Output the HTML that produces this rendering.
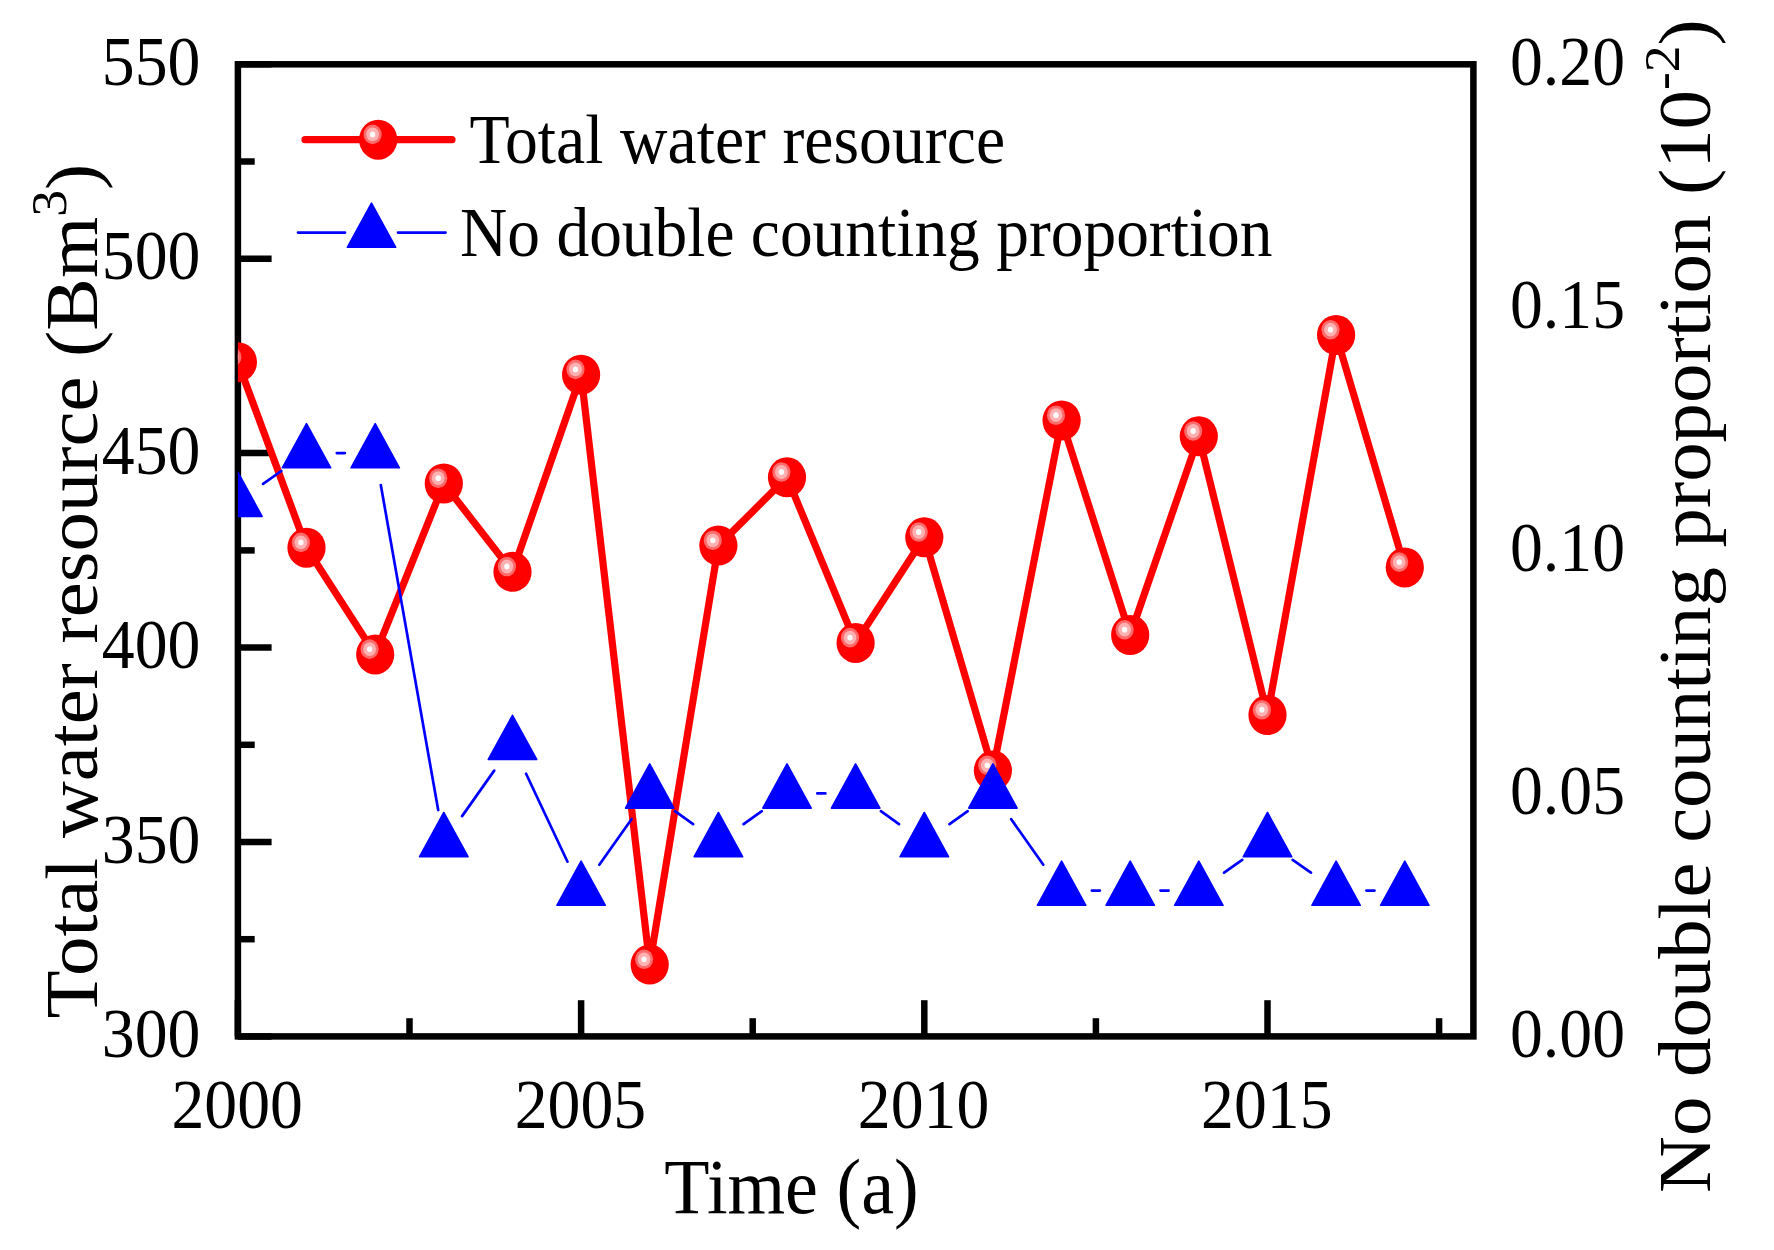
<!DOCTYPE html>
<html><head><meta charset="utf-8"><title>Total water resource</title>
<style>html,body{margin:0;padding:0;background:#fff}svg{display:block}text{font-family:"Liberation Serif","Times New Roman",serif;fill:#000}</style></head><body>
<svg width="1774" height="1250" viewBox="0 0 1774 1250">
<defs><clipPath id="cp"><rect x="237.9" y="64.3" width="1235.5" height="972.1"/></clipPath></defs>
<rect width="1774" height="1250" fill="#fff"/>
<g stroke="#000" stroke-width="6.5" fill="none">
<line x1="237.9" y1="1036.4" x2="237.9" y2="1000.2"/>
<line x1="409.5" y1="1036.4" x2="409.5" y2="1018.2"/>
<line x1="581.1" y1="1036.4" x2="581.1" y2="1000.2"/>
<line x1="752.7" y1="1036.4" x2="752.7" y2="1018.2"/>
<line x1="924.3" y1="1036.4" x2="924.3" y2="1000.2"/>
<line x1="1095.9" y1="1036.4" x2="1095.9" y2="1018.2"/>
<line x1="1267.5" y1="1036.4" x2="1267.5" y2="1000.2"/>
<line x1="1439.1" y1="1036.4" x2="1439.1" y2="1018.2"/>
<line x1="237.9" y1="1036.4" x2="271.6" y2="1036.4"/>
<line x1="237.9" y1="939.2" x2="254.7" y2="939.2"/>
<line x1="237.9" y1="842.0" x2="271.6" y2="842.0"/>
<line x1="237.9" y1="744.8" x2="254.7" y2="744.8"/>
<line x1="237.9" y1="647.6" x2="271.6" y2="647.6"/>
<line x1="237.9" y1="550.4" x2="254.7" y2="550.4"/>
<line x1="237.9" y1="453.1" x2="271.6" y2="453.1"/>
<line x1="237.9" y1="355.9" x2="254.7" y2="355.9"/>
<line x1="237.9" y1="258.7" x2="271.6" y2="258.7"/>
<line x1="237.9" y1="161.5" x2="254.7" y2="161.5"/>
<line x1="237.9" y1="64.3" x2="271.6" y2="64.3"/>
</g>
<rect x="237.9" y="64.3" width="1235.5" height="972.1" fill="none" stroke="#000" stroke-width="6.5"/>
<g clip-path="url(#cp)">
<polyline points="237.9,362.2 306.5,547.7 375.2,654.4 443.8,483.5 512.5,571.8 581.1,374.7 649.7,964.6 718.4,545.6 787.0,477.3 855.6,642.9 924.3,537.3 992.9,770.6 1061.6,420.5 1130.2,635.0 1198.8,436.3 1267.5,715.0 1336.1,335.0 1404.8,567.4" fill="none" stroke="#f00" stroke-width="7.2" stroke-linejoin="round"/>
<ellipse cx="237.9" cy="362.2" rx="19.1" ry="20" fill="#f00"/><ellipse cx="232.3" cy="356.9" rx="9.1" ry="9.8" fill="#ff6a6a"/><ellipse cx="232.3" cy="356.9" rx="6.4" ry="6.9" fill="#ffb0b0"/><ellipse cx="232.3" cy="356.9" rx="2.7" ry="2.9" fill="#fffafa"/>
<ellipse cx="306.5" cy="547.7" rx="19.1" ry="20" fill="#f00"/><ellipse cx="300.9" cy="542.4" rx="9.1" ry="9.8" fill="#ff6a6a"/><ellipse cx="300.9" cy="542.4" rx="6.4" ry="6.9" fill="#ffb0b0"/><ellipse cx="300.9" cy="542.4" rx="2.7" ry="2.9" fill="#fffafa"/>
<ellipse cx="375.2" cy="654.4" rx="19.1" ry="20" fill="#f00"/><ellipse cx="369.6" cy="649.1" rx="9.1" ry="9.8" fill="#ff6a6a"/><ellipse cx="369.6" cy="649.1" rx="6.4" ry="6.9" fill="#ffb0b0"/><ellipse cx="369.6" cy="649.1" rx="2.7" ry="2.9" fill="#fffafa"/>
<ellipse cx="443.8" cy="483.5" rx="19.1" ry="20" fill="#f00"/><ellipse cx="438.2" cy="478.2" rx="9.1" ry="9.8" fill="#ff6a6a"/><ellipse cx="438.2" cy="478.2" rx="6.4" ry="6.9" fill="#ffb0b0"/><ellipse cx="438.2" cy="478.2" rx="2.7" ry="2.9" fill="#fffafa"/>
<ellipse cx="512.5" cy="571.8" rx="19.1" ry="20" fill="#f00"/><ellipse cx="506.9" cy="566.5" rx="9.1" ry="9.8" fill="#ff6a6a"/><ellipse cx="506.9" cy="566.5" rx="6.4" ry="6.9" fill="#ffb0b0"/><ellipse cx="506.9" cy="566.5" rx="2.7" ry="2.9" fill="#fffafa"/>
<ellipse cx="581.1" cy="374.7" rx="19.1" ry="20" fill="#f00"/><ellipse cx="575.5" cy="369.4" rx="9.1" ry="9.8" fill="#ff6a6a"/><ellipse cx="575.5" cy="369.4" rx="6.4" ry="6.9" fill="#ffb0b0"/><ellipse cx="575.5" cy="369.4" rx="2.7" ry="2.9" fill="#fffafa"/>
<ellipse cx="649.7" cy="964.6" rx="19.1" ry="20" fill="#f00"/><ellipse cx="644.1" cy="959.3" rx="9.1" ry="9.8" fill="#ff6a6a"/><ellipse cx="644.1" cy="959.3" rx="6.4" ry="6.9" fill="#ffb0b0"/><ellipse cx="644.1" cy="959.3" rx="2.7" ry="2.9" fill="#fffafa"/>
<ellipse cx="718.4" cy="545.6" rx="19.1" ry="20" fill="#f00"/><ellipse cx="712.8" cy="540.3" rx="9.1" ry="9.8" fill="#ff6a6a"/><ellipse cx="712.8" cy="540.3" rx="6.4" ry="6.9" fill="#ffb0b0"/><ellipse cx="712.8" cy="540.3" rx="2.7" ry="2.9" fill="#fffafa"/>
<ellipse cx="787.0" cy="477.3" rx="19.1" ry="20" fill="#f00"/><ellipse cx="781.4" cy="472.0" rx="9.1" ry="9.8" fill="#ff6a6a"/><ellipse cx="781.4" cy="472.0" rx="6.4" ry="6.9" fill="#ffb0b0"/><ellipse cx="781.4" cy="472.0" rx="2.7" ry="2.9" fill="#fffafa"/>
<ellipse cx="855.6" cy="642.9" rx="19.1" ry="20" fill="#f00"/><ellipse cx="850.0" cy="637.6" rx="9.1" ry="9.8" fill="#ff6a6a"/><ellipse cx="850.0" cy="637.6" rx="6.4" ry="6.9" fill="#ffb0b0"/><ellipse cx="850.0" cy="637.6" rx="2.7" ry="2.9" fill="#fffafa"/>
<ellipse cx="924.3" cy="537.3" rx="19.1" ry="20" fill="#f00"/><ellipse cx="918.7" cy="532.0" rx="9.1" ry="9.8" fill="#ff6a6a"/><ellipse cx="918.7" cy="532.0" rx="6.4" ry="6.9" fill="#ffb0b0"/><ellipse cx="918.7" cy="532.0" rx="2.7" ry="2.9" fill="#fffafa"/>
<ellipse cx="992.9" cy="770.6" rx="19.1" ry="20" fill="#f00"/><ellipse cx="987.3" cy="765.3" rx="9.1" ry="9.8" fill="#ff6a6a"/><ellipse cx="987.3" cy="765.3" rx="6.4" ry="6.9" fill="#ffb0b0"/><ellipse cx="987.3" cy="765.3" rx="2.7" ry="2.9" fill="#fffafa"/>
<ellipse cx="1061.6" cy="420.5" rx="19.1" ry="20" fill="#f00"/><ellipse cx="1056.0" cy="415.2" rx="9.1" ry="9.8" fill="#ff6a6a"/><ellipse cx="1056.0" cy="415.2" rx="6.4" ry="6.9" fill="#ffb0b0"/><ellipse cx="1056.0" cy="415.2" rx="2.7" ry="2.9" fill="#fffafa"/>
<ellipse cx="1130.2" cy="635.0" rx="19.1" ry="20" fill="#f00"/><ellipse cx="1124.6" cy="629.7" rx="9.1" ry="9.8" fill="#ff6a6a"/><ellipse cx="1124.6" cy="629.7" rx="6.4" ry="6.9" fill="#ffb0b0"/><ellipse cx="1124.6" cy="629.7" rx="2.7" ry="2.9" fill="#fffafa"/>
<ellipse cx="1198.8" cy="436.3" rx="19.1" ry="20" fill="#f00"/><ellipse cx="1193.2" cy="431.0" rx="9.1" ry="9.8" fill="#ff6a6a"/><ellipse cx="1193.2" cy="431.0" rx="6.4" ry="6.9" fill="#ffb0b0"/><ellipse cx="1193.2" cy="431.0" rx="2.7" ry="2.9" fill="#fffafa"/>
<ellipse cx="1267.5" cy="715.0" rx="19.1" ry="20" fill="#f00"/><ellipse cx="1261.9" cy="709.7" rx="9.1" ry="9.8" fill="#ff6a6a"/><ellipse cx="1261.9" cy="709.7" rx="6.4" ry="6.9" fill="#ffb0b0"/><ellipse cx="1261.9" cy="709.7" rx="2.7" ry="2.9" fill="#fffafa"/>
<ellipse cx="1336.1" cy="335.0" rx="19.1" ry="20" fill="#f00"/><ellipse cx="1330.5" cy="329.7" rx="9.1" ry="9.8" fill="#ff6a6a"/><ellipse cx="1330.5" cy="329.7" rx="6.4" ry="6.9" fill="#ffb0b0"/><ellipse cx="1330.5" cy="329.7" rx="2.7" ry="2.9" fill="#fffafa"/>
<ellipse cx="1404.8" cy="567.4" rx="19.1" ry="20" fill="#f00"/><ellipse cx="1399.2" cy="562.1" rx="9.1" ry="9.8" fill="#ff6a6a"/><ellipse cx="1399.2" cy="562.1" rx="6.4" ry="6.9" fill="#ffb0b0"/><ellipse cx="1399.2" cy="562.1" rx="2.7" ry="2.9" fill="#fffafa"/>
<path d="M263.1 483.9L281.3 471.0M336.8 453.1L344.9 453.1M380.8 485.0L438.2 810.1M462.1 816.1L494.2 770.6M526.1 773.7L567.5 861.7M599.3 864.7L631.5 819.2M675.0 811.2L693.1 824.1M743.6 824.1L761.8 811.2M817.3 793.4L825.4 793.4M880.9 811.2L899.0 824.1M949.5 824.1L967.7 811.2M1011.2 819.2L1043.3 864.7M1091.8 890.6L1099.9 890.6M1160.5 890.6L1168.6 890.6M1224.1 872.7L1242.2 859.9M1292.7 859.9L1310.9 872.7M1366.4 890.6L1374.5 890.6" fill="none" stroke="#00f" stroke-width="2.7" stroke-linecap="round"/>
<path d="M237.9 472.2L262.1 516.4L213.7 516.4Z" fill="#00f" stroke="#00f" stroke-width="1.6" stroke-linejoin="round"/>
<path d="M306.5 423.6L330.7 467.8L282.3 467.8Z" fill="#00f" stroke="#00f" stroke-width="1.6" stroke-linejoin="round"/>
<path d="M375.2 423.6L399.4 467.8L351.0 467.8Z" fill="#00f" stroke="#00f" stroke-width="1.6" stroke-linejoin="round"/>
<path d="M443.8 812.5L468.0 856.7L419.6 856.7Z" fill="#00f" stroke="#00f" stroke-width="1.6" stroke-linejoin="round"/>
<path d="M512.5 715.3L536.7 759.5L488.3 759.5Z" fill="#00f" stroke="#00f" stroke-width="1.6" stroke-linejoin="round"/>
<path d="M581.1 861.1L605.3 905.3L556.9 905.3Z" fill="#00f" stroke="#00f" stroke-width="1.6" stroke-linejoin="round"/>
<path d="M649.7 763.9L673.9 808.1L625.5 808.1Z" fill="#00f" stroke="#00f" stroke-width="1.6" stroke-linejoin="round"/>
<path d="M718.4 812.5L742.6 856.7L694.2 856.7Z" fill="#00f" stroke="#00f" stroke-width="1.6" stroke-linejoin="round"/>
<path d="M787.0 763.9L811.2 808.1L762.8 808.1Z" fill="#00f" stroke="#00f" stroke-width="1.6" stroke-linejoin="round"/>
<path d="M855.6 763.9L879.9 808.1L831.4 808.1Z" fill="#00f" stroke="#00f" stroke-width="1.6" stroke-linejoin="round"/>
<path d="M924.3 812.5L948.5 856.7L900.1 856.7Z" fill="#00f" stroke="#00f" stroke-width="1.6" stroke-linejoin="round"/>
<path d="M992.9 763.9L1017.1 808.1L968.7 808.1Z" fill="#00f" stroke="#00f" stroke-width="1.6" stroke-linejoin="round"/>
<path d="M1061.6 861.1L1085.8 905.3L1037.4 905.3Z" fill="#00f" stroke="#00f" stroke-width="1.6" stroke-linejoin="round"/>
<path d="M1130.2 861.1L1154.4 905.3L1106.0 905.3Z" fill="#00f" stroke="#00f" stroke-width="1.6" stroke-linejoin="round"/>
<path d="M1198.8 861.1L1223.0 905.3L1174.6 905.3Z" fill="#00f" stroke="#00f" stroke-width="1.6" stroke-linejoin="round"/>
<path d="M1267.5 812.5L1291.7 856.7L1243.3 856.7Z" fill="#00f" stroke="#00f" stroke-width="1.6" stroke-linejoin="round"/>
<path d="M1336.1 861.1L1360.3 905.3L1311.9 905.3Z" fill="#00f" stroke="#00f" stroke-width="1.6" stroke-linejoin="round"/>
<path d="M1404.8 861.1L1429.0 905.3L1380.6 905.3Z" fill="#00f" stroke="#00f" stroke-width="1.6" stroke-linejoin="round"/>
</g>
<line x1="305" y1="139.7" x2="452" y2="139.7" stroke="#f00" stroke-width="7.2" stroke-linecap="round"/>
<ellipse cx="378.2" cy="139.7" rx="19.1" ry="20" fill="#f00"/><ellipse cx="372.6" cy="134.4" rx="9.1" ry="9.8" fill="#ff6a6a"/><ellipse cx="372.6" cy="134.4" rx="6.4" ry="6.9" fill="#ffb0b0"/><ellipse cx="372.6" cy="134.4" rx="2.7" ry="2.9" fill="#fffafa"/>
<path d="M298 232.6H345M398 232.6H445.6" stroke="#00f" stroke-width="2.7" stroke-linecap="round" fill="none"/>
<path d="M371.5 203.1L395.7 247.3L347.3 247.3Z" fill="#00f" stroke="#00f" stroke-width="1.6" stroke-linejoin="round"/>
<text transform="translate(469.4 162.7) scale(0.9340 1)" font-size="70.4" text-anchor="start">Total water resource</text>
<text transform="translate(460.1 256.2) scale(0.9296 1)" font-size="70.4" text-anchor="start">No double counting proportion</text>
<text transform="translate(200.5 1057.0) scale(0.9340 1)" font-size="70.4" text-anchor="end">300</text>
<text transform="translate(200.5 862.6) scale(0.9340 1)" font-size="70.4" text-anchor="end">350</text>
<text transform="translate(200.5 668.2) scale(0.9340 1)" font-size="70.4" text-anchor="end">400</text>
<text transform="translate(200.5 473.7) scale(0.9340 1)" font-size="70.4" text-anchor="end">450</text>
<text transform="translate(200.5 279.3) scale(0.9340 1)" font-size="70.4" text-anchor="end">500</text>
<text transform="translate(200.5 84.9) scale(0.9340 1)" font-size="70.4" text-anchor="end">550</text>
<text transform="translate(1510.0 1057.4) scale(0.9340 1)" font-size="70.4" text-anchor="start">0.00</text>
<text transform="translate(1510.0 814.4) scale(0.9340 1)" font-size="70.4" text-anchor="start">0.05</text>
<text transform="translate(1510.0 571.4) scale(0.9340 1)" font-size="70.4" text-anchor="start">0.10</text>
<text transform="translate(1510.0 328.3) scale(0.9340 1)" font-size="70.4" text-anchor="start">0.15</text>
<text transform="translate(1510.0 85.3) scale(0.9340 1)" font-size="70.4" text-anchor="start">0.20</text>
<text transform="translate(237.2 1127.8) scale(0.9340 1)" font-size="70.4" text-anchor="middle">2000</text>
<text transform="translate(580.4 1127.8) scale(0.9340 1)" font-size="70.4" text-anchor="middle">2005</text>
<text transform="translate(923.6 1127.8) scale(0.9340 1)" font-size="70.4" text-anchor="middle">2010</text>
<text transform="translate(1266.8 1127.8) scale(0.9340 1)" font-size="70.4" text-anchor="middle">2015</text>
<text transform="translate(791.5 1212.9) scale(0.9400 1)" font-size="78.8" text-anchor="middle">Time (a)</text>
<text transform="translate(97.4 1018.6) scale(0.9450 1) rotate(-90)" font-size="78.8" text-anchor="start">Total water resource (Bm<tspan font-size="53.6" dy="-32.7">3</tspan><tspan dy="32.7">)</tspan></text>
<text transform="translate(1710.2 1193.0) scale(0.9450 1) rotate(-90)" font-size="78.8" text-anchor="start">No double counting proportion (10<tspan font-size="53.6" dy="-32.7">-2</tspan><tspan dy="32.7">)</tspan></text>
</svg></body></html>
